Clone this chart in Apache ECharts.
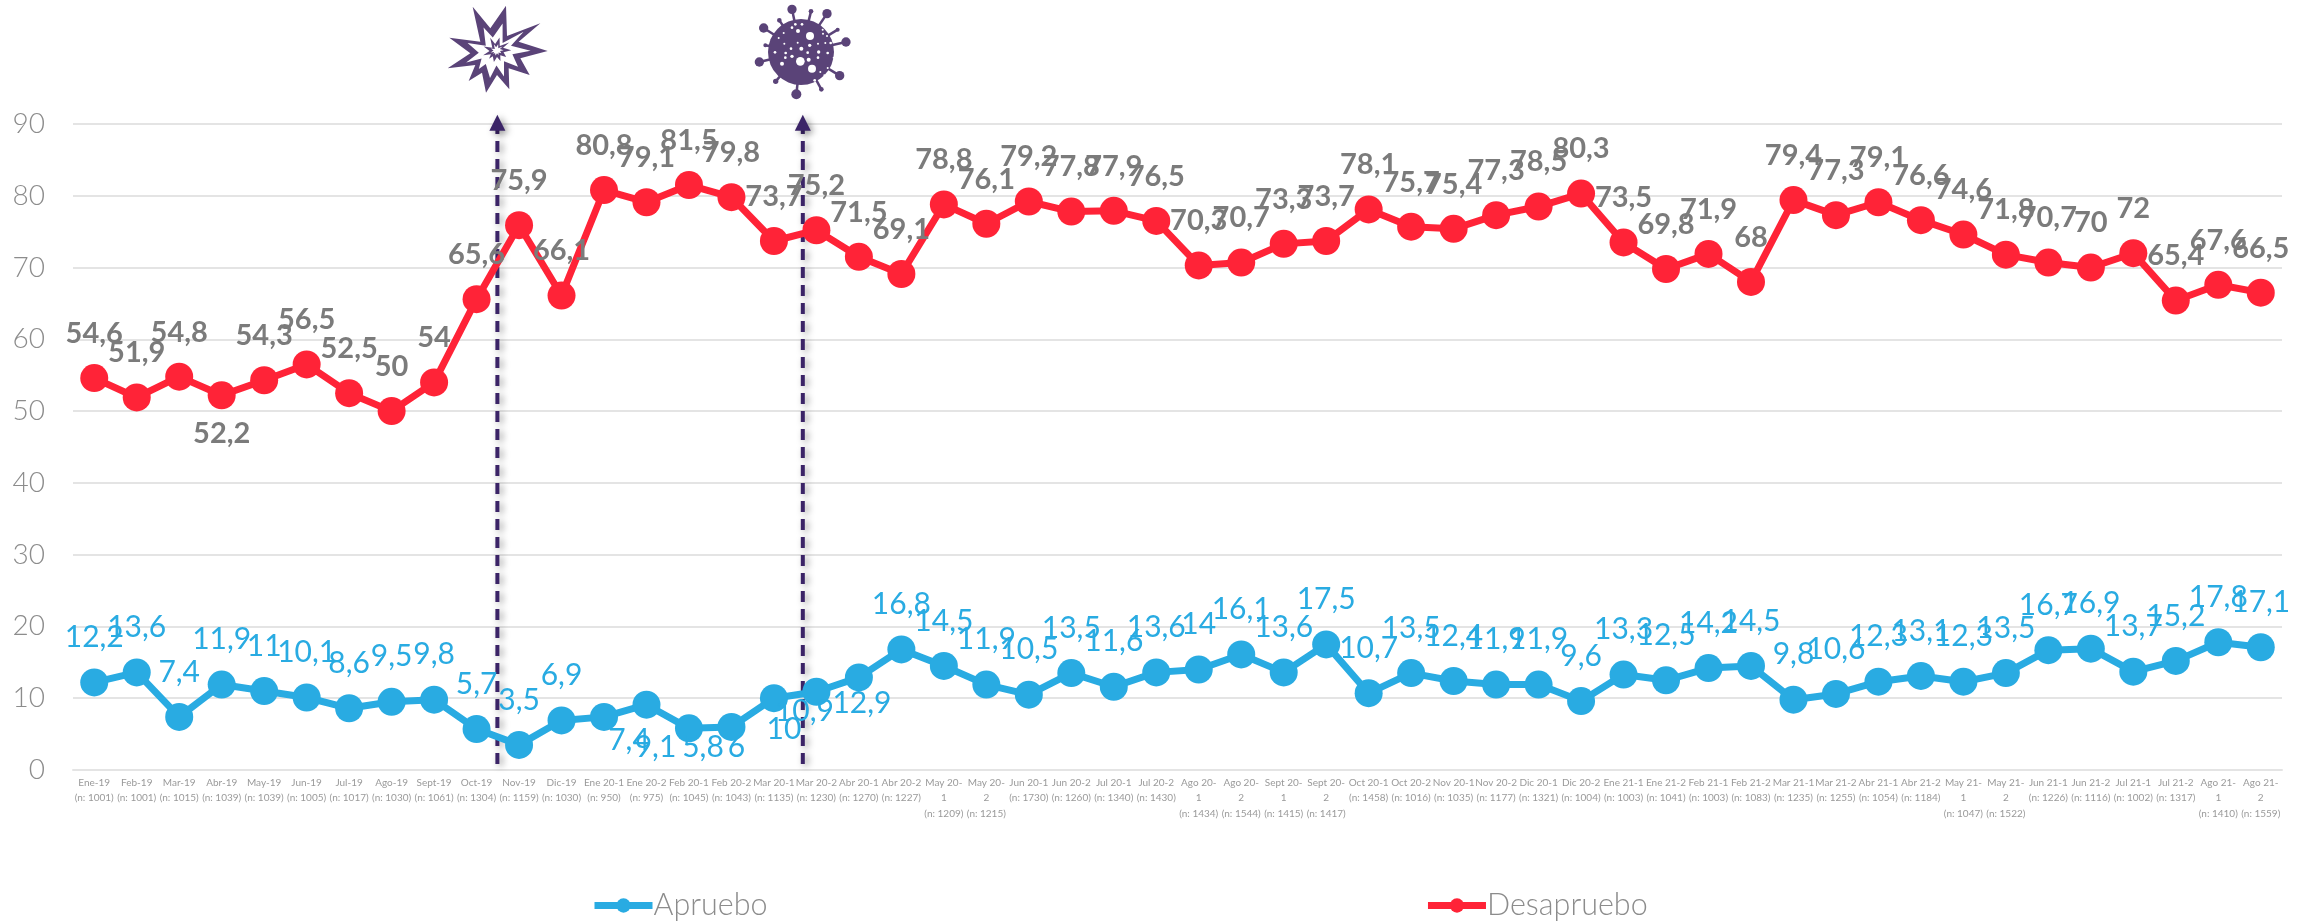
<!DOCTYPE html>
<html>
<head>
<meta charset="utf-8">
<style>html,body{margin:0;padding:0;background:#fff}#c{width:2315px;height:921px}</style>
<script src="https://cdn.jsdelivr.net/npm/echarts@6/dist/echarts.min.js"></script>
</head>
<body>
<div id="c"></div>
<script>
const periods = ['Ene-19','Feb-19','Mar-19','Abr-19','May-19','Jun-19','Jul-19','Ago-19','Sept-19','Oct-19','Nov-19','Dic-19',
 'Ene 20-1','Ene 20-2','Feb 20-1','Feb 20-2','Mar 20-1','Mar 20-2','Abr 20-1','Abr 20-2','May 20-\n1','May 20-\n2','Jun 20-1','Jun 20-2','Jul 20-1','Jul 20-2','Ago 20-\n1','Ago 20-\n2','Sept 20-\n1','Sept 20-\n2','Oct 20-1','Oct 20-2','Nov 20-1','Nov 20-2','Dic 20-1','Dic 20-2',
 'Ene 21-1','Ene 21-2','Feb 21-1','Feb 21-2','Mar 21-1','Mar 21-2','Abr 21-1','Abr 21-2','May 21-\n1','May 21-\n2','Jun 21-1','Jun 21-2','Jul 21-1','Jul 21-2','Ago 21-\n1','Ago 21-\n2'];
const sampleSizes = [1001,1001,1015,1039,1039,1005,1017,1030,1061,1304,1159,1030,
 950,975,1045,1043,1135,1230,1270,1227,1209,1215,1730,1260,1340,1430,1434,1544,1415,1417,1458,1016,1035,1177,1321,1004,
 1003,1041,1003,1083,1235,1255,1054,1184,1047,1522,1226,1116,1002,1317,1410,1559];
const apruebo = [12.2,13.6,7.4,11.9,11,10.1,8.6,9.5,9.8,5.7,3.5,6.9,
 7.4,9.1,5.8,6,10,10.9,12.9,16.8,14.5,11.9,10.5,13.5,11.6,13.6,14,16.1,13.6,17.5,10.7,13.5,12.4,11.9,11.9,9.6,
 13.3,12.5,14.2,14.5,9.8,10.6,12.3,13.1,12.3,13.5,16.7,16.9,13.7,15.2,17.8,17.1];
const desapruebo = [54.6,51.9,54.8,52.2,54.3,56.5,52.5,50,54,65.6,75.9,66.1,
 80.8,79.1,81.5,79.8,73.7,75.2,71.5,69.1,78.8,76.1,79.2,77.8,77.9,76.5,70.3,70.7,73.3,73.7,78.1,75.7,75.4,77.3,78.5,80.3,
 73.5,69.8,71.9,68,79.4,77.3,79.1,76.6,74.6,71.8,70.7,70,72,65.4,67.6,66.5];
const yTicks = {min:0,max:90,interval:10};
const eventPositions = [9.49,16.68];
const eventTop = 91.3;

// label placement overrides: point index -> offset from the point centre
const blueLabelOffsets = {12:[25,23],13:[9,43],14:[14,19],15:[5,20],16:[10,31],17:[-12,20],18:[3,26]};
const redLabelOffsets = {3:[0,38]};

const FONT = 'Lato';
const BLUE = '#29abe2', RED = '#ff2337', PURPLE = '#5a4378', DASH = '#3b2467';
const categories = periods.map((p,i)=>p+'\n(n: '+sampleSizes[i]+')');
const fmt = v => String(v).replace('.',',');

function points(values, overrides){
  return values.map((v,i)=>{
    const o = overrides[i];
    const item = {value:v};
    if(o) item.label = {position:'inside', distance:0, offset:o};
    return item;
  });
}
function lineSeries(name, values, color, labelColor, weight, size, overrides){
  return {
    name, type:'line', xAxisIndex:0, yAxisIndex:0, z:3,
    data: points(values, overrides),
    symbol:'circle', symbolSize:28, showAllSymbol:true,
    lineStyle:{color, width:7}, itemStyle:{color},
    label:{show:true, position:'top', distance:16, formatter:p=>fmt(p.value),
      color:labelColor, fontFamily:FONT, fontSize:size, fontWeight:weight},
    emphasis:{disabled:true}, animation:false
  };
}

// decorative icons
const starRel = pts => pts.map(p=>[(p[0]-170)/3,(p[1]-150)/3]);
const starPts = starRel([[97,20],[150,85],[197,17],[200,108],[300,70],[235,125],[322,153],[240,175],[268,225],[205,205],[207,268],[170,225],[137,278],[125,218],[85,243],[105,195],[22,205],[90,160],[27,113],[120,125]]);
const starInner = starRel([[122,70],[155,105],[190,55],[190,125],[265,85],[220,135],[290,153],[225,165],[245,210],[195,190],[195,245],[168,205],[145,250],[130,200],[105,218],[115,180],[60,195],[105,160],[65,125],[130,135]]);
const scaled = (pts,s)=>pts.map(p=>[p[0]*s,p[1]*s]);
const starIcon = {type:'group', x:497, y:50, silent:true, children:[
  {type:'polygon', shape:{points:starPts}, style:{fill:PURPLE}},
  {type:'polygon', shape:{points:scaled(starInner,.84)}, style:{fill:'#fff'}},
  {type:'polygon', shape:{points:scaled(starPts,.28)}, style:{fill:PURPLE}},
  {type:'polygon', shape:{points:scaled(starPts,.13)}, style:{fill:'#fff'}}
]};
const vC=[152,155];
const rel=(x,y)=>[(x-vC[0])/3,(y-vC[1])/3];
const spikes=[[125,27,14],[182,33,7],[230,40,14],[87,60,7],[40,83,14],[262,88,6],[287,125,14],[45,135,6],[27,185,14],[268,226,14],[76,243,8],[213,267,7],[138,282,15]];
const dots=[[179,107,12],[150,183,13],[185,205,12],[125,168,5],[153,145,6],[178,135,5],[203,130,3],[106,158,4],[143,92,6],[205,155,5],[232,158,4],[74,156,4],[102,130,3],[203,172,4],[175,178,6],[95,190,6],[193,240,4],[135,72,4],[155,72,4],[217,88,3],[125,82,4],[122,145,4],[225,128,3],[241,128,4],[105,172,4],[172,157,4],[142,127,3],[232,203,3],[210,215,3],[222,225,3],[250,172,3],[218,100,3],[230,107,3],[100,98,3],[85,113,3]];
const virusIcon = {type:'group', x:801, y:52, silent:true, children:[
  ...spikes.map(s=>{const p=rel(s[0],s[1]);return {type:'line',shape:{x1:0,y1:0,x2:p[0],y2:p[1]},style:{stroke:PURPLE,lineWidth:2.5}};}),
  ...spikes.map(s=>{const p=rel(s[0],s[1]);return {type:'circle',shape:{cx:p[0],cy:p[1],r:s[2]/3},style:{fill:PURPLE}};}),
  {type:'circle',shape:{cx:0,cy:0,r:33},style:{fill:PURPLE}},
  ...dots.map(s=>{const p=rel(s[0],s[1]);return {type:'circle',shape:{cx:p[0],cy:p[1],r:s[2]/3},style:{fill:'#fff'}};})
]};

const chart = echarts.init(document.getElementById('c'),null,{renderer:'canvas'});
chart.setOption({
  backgroundColor:'#fff', animation:false,
  textStyle:{fontFamily:FONT},
  grid:{left:73,right:33,top:124,bottom:151},
  xAxis:[
    {type:'category', data:categories, boundaryGap:true,
     axisLine:{lineStyle:{color:'#e4e4e4',width:2}}, axisTick:{show:false},
     axisLabel:{interval:0, hideOverlap:false, margin:5, color:'#9a9a9a', fontFamily:FONT, fontWeight:400, fontSize:10, lineHeight:15.5}},
    {type:'value', min:-0.5, max:51.5, show:false}
  ],
  yAxis:{type:'value', min:yTicks.min, max:yTicks.max, interval:yTicks.interval,
     axisLine:{show:false}, axisTick:{show:false},
     axisLabel:{margin:28, color:'#8c8c8c', fontFamily:FONT, fontWeight:300, fontSize:28},
     splitLine:{lineStyle:{color:'#e4e4e4',width:2}}},
  legend:{data:['Apruebo','Desapruebo'], left:586, top:885, itemWidth:58, itemHeight:18, itemGap:657,
     lineStyle:{width:7},
     textStyle:{color:'#8c8c8c',fontFamily:FONT,fontWeight:300,fontSize:30.5,padding:[0,0,0,-4]}},
  graphic:[starIcon,virusIcon],
  series:[
    {type:'custom', xAxisIndex:1, yAxisIndex:0, z:2, silent:true, animation:false,
     data:eventPositions.map(x=>[x,0]),
     encode:{x:0,y:1},
     renderItem:(params,api)=>{
       const x=api.value(0);
       const b=api.coord([x,0]), t=api.coord([x,eventTop]);
       const shadow={shadowBlur:7,shadowColor:'rgba(0,0,0,.4)',shadowOffsetX:3,shadowOffsetY:2};
       return {type:'group',children:[
         {type:'line',shape:{x1:b[0],y1:b[1]-6,x2:t[0],y2:t[1]+14},style:{stroke:DASH,lineWidth:4,lineDash:[11,7],...shadow}},
         {type:'polygon',shape:{points:[[t[0],t[1]],[t[0]+8,t[1]+16],[t[0]-8,t[1]+16]]},style:{fill:DASH,...shadow}}
       ]};
     }},
    lineSeries('Apruebo',apruebo,BLUE,BLUE,400,30,blueLabelOffsets),
    lineSeries('Desapruebo',desapruebo,RED,'#7b7b7b',700,29,redLabelOffsets)
  ]
});
</script>
</body>
</html>
